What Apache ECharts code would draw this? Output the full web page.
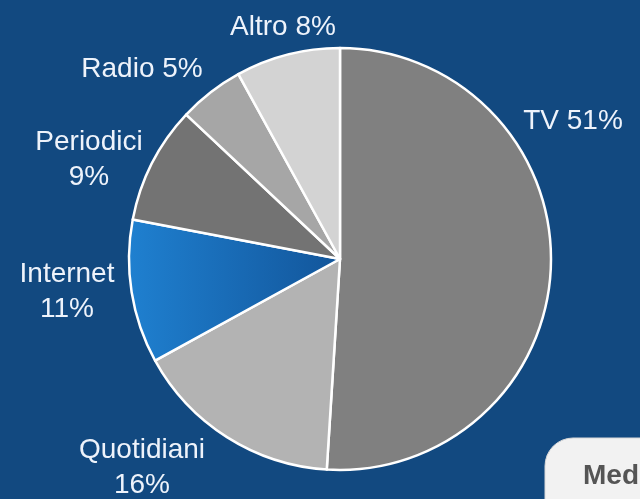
<!DOCTYPE html>
<html>
<head>
<meta charset="utf-8">
<script src="https://cdn.jsdelivr.net/npm/echarts@6/dist/echarts.min.js"></script>
<style>
html,body{margin:0;padding:0;background:#124980;}
#c{width:640px;height:499px;}
</style>
</head>
<body>
<div id="c"></div>
<script>
var categories = ['TV', 'Quotidiani', 'Internet', 'Periodici', 'Radio', 'Altro'];
var values = [51, 16, 11, 9, 5, 8];
var labelTexts = ['TV 51%', 'Quotidiani\n16%', 'Internet\n11%', 'Periodici\n9%', 'Radio 5%', 'Altro 8%'];

var labelPos = [[573, 121], [142, 468], [67, 292], [89, 160], [142, 69], [283, 27]];
var colors = [
  '#808080',
  '#b3b3b3',
  new echarts.graphic.LinearGradient(0, 0, 1, 0, [{offset: 0, color: '#1f80d0'}, {offset: 1, color: '#12559a'}]),
  '#737373',
  '#a6a6a6',
  '#d3d3d3'
];

var chart = echarts.init(document.getElementById('c'));
var data = categories.map(function (c, i) {
  return {name: c, value: values[i], itemStyle: {color: colors[i]}};
});
chart.setOption({
  backgroundColor: '#124980',
  animation: false,
  series: [{
    type: 'pie',
    center: [340, 259],
    radius: 211,
    startAngle: 90,
    clockwise: true,
    data: data,
    itemStyle: {borderColor: '#ffffff', borderWidth: 2.5},
    label: {
      show: true,
      position: 'outside',
      formatter: function (p) { return labelTexts[p.dataIndex]; },
      color: '#eef3fb',
      fontFamily: 'Liberation Sans, Arial, sans-serif',
      fontSize: 28,
      lineHeight: 35,
      align: 'center',
      overflow: 'none',
      width: 200
    },
    labelLine: {show: false},
    labelLayout: function (p) {
      var pos = labelPos[p.dataIndex];
      return {x: pos[0], y: pos[1], align: 'center', verticalAlign: 'middle', width: 200};
    },
    emphasis: {disabled: true}
  }],
  graphic: [
    {
      type: 'rect',
      shape: {x: 545, y: 438, width: 200, height: 100, r: 28},
      style: {fill: '#f2f2f2', stroke: '#d8d8d8', lineWidth: 1}
    },
    {
      type: 'text',
      style: {x: 583, y: 476, text: 'Med', fill: '#555555', font: 'bold 28px Liberation Sans, Arial, sans-serif', textVerticalAlign: 'middle'}
    }
  ]
});
</script>
</body>
</html>
